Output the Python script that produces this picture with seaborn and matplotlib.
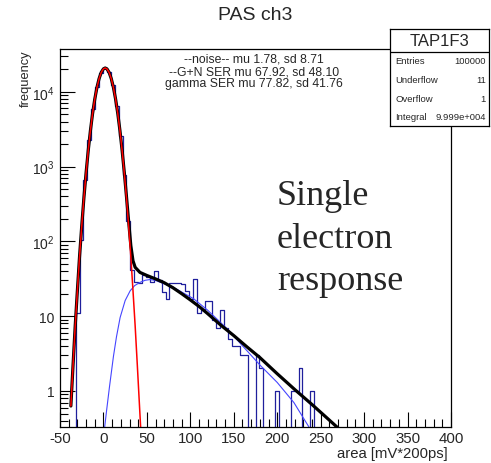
import numpy as np
import pandas as pd
import matplotlib
matplotlib.use("Agg")
import matplotlib.pyplot as plt
import seaborn as sns
from matplotlib.ticker import MultipleLocator, LogLocator, NullFormatter

sns.set_theme(style="white")
plt.rcParams['font.family'] = ['Liberation Sans', 'DejaVu Sans']
plt.rcParams['mathtext.fontset'] = 'custom'
plt.rcParams['mathtext.rm'] = 'Liberation Sans'
plt.rcParams['axes.unicode_minus'] = False

# histogram: 100 bins of 4.5 from -50 to 400
bin_edges = list(np.linspace(-50, 400, 101))
counts = [0, 0, 0, 0, 11, 105, 660, 2250, 5900, 11700,
          17900, 20800, 18400, 12500, 6400, 2550, 770, 185, 42, 29,
          28, 36, 33, 29, 40, 30, 21, 17, 28, 28,
          28, 27, 22, 17, 31, 11, 12, 16, 16, 9,
          7, 12, 7, 5, 4, 4, 3, 3, 0, 0,
          3, 2, 0, 0, 0, 1, 0, 0, 0, 1,
          1, 2, 0, 0, 1] + [0] * 35

# noise fit (red)
red_x = [-37.5, -35, -32.5, -30, -27.5, -25, -22.5, -20, -17.5, -15, -12.5, -10, -7.5, -5, -2.5,
         0, 2, 4, 6.5, 9, 11.5, 14, 16.5, 19, 21.5, 24, 26.5, 29, 31.5, 34, 36.5, 39, 41.5, 44]
red_y = [0.63, 2.2, 7.4, 22, 63, 160, 380, 820, 1640, 3020, 5120, 7950, 11400, 15000, 18200,
         20250, 20800, 20250, 18200, 15000, 11400, 7950, 5120, 3020, 1640, 820, 380, 160, 63, 22, 7.4, 2.2, 0.63, 0.18]

# G+N SER total fit (black)
black_x = [-37.5, -35, -32.5, -30, -27.5, -25, -22.5, -20, -17.5, -15, -12.5, -10, -7.5, -5, -2.5,
           0, 2, 4, 6.5, 9, 11.5, 14, 16.5, 19, 21.5, 24, 26.5, 29, 31.5, 34, 36.5, 42, 50, 60,
           70, 80, 90, 100, 110, 120, 135, 150, 165, 180, 200, 220, 240, 255, 270]
black_y = [0.63, 2.2, 7.4, 22, 63, 160, 380, 820, 1640, 3020, 5120, 7950, 11400, 15000, 18200,
           20250, 20800, 20250, 18200, 15000, 11400, 7950, 5120, 3020, 1640, 835, 398, 185, 88, 55, 45, 38.5, 35, 31.5,
           28, 24, 20, 16.5, 13.5, 10.8, 7.6, 5.5, 3.9, 2.8, 1.7, 1.05, 0.66, 0.46, 0.32]

# gamma SER fit (thin blue)
ser_x = [1, 3.8, 7, 11.5, 15, 19.2, 25, 30.8, 36, 42.3, 48, 53.8, 60, 65.4, 80, 103.8, 120,
         142.3, 157.7, 180.8, 200, 219.2, 236.5, 242]
ser_y = [0.3, 0.57, 1.15, 2.9, 5.3, 9.6, 16.2, 21.9, 25.7, 28.4, 30.2, 30.9, 30, 28.4, 24.5, 17.1, 12,
         6.8, 4.3, 2.18, 1.3, 0.7, 0.33, 0.26]

legend_lines = ["--noise-- mu 1.78, sd 8.71",
                "--G+N SER mu 67.92, sd 48.10",
                "gamma SER mu 77.82, sd 41.76"]
stat_names = ["Entries", "Underflow", "Overflow", "Integral"]
stat_values = ["100000", "11", "1", "9.999e+004"]

W, H = 491, 464
fig = plt.figure(figsize=(W / 100, H / 100), dpi=100)
ax = fig.add_axes([60 / W, 1 - 428 / H, 391 / W, 378.5 / H])

hist_df = pd.DataFrame({
    "area": 0.5 * (np.array(bin_edges[:-1]) + np.array(bin_edges[1:])),
    "count": counts,
})
sns.histplot(data=hist_df, x="area", weights="count", bins=bin_edges, element="step", fill=False,
             color="#1f1f9c", linewidth=0.9, ax=ax)
ax.set_yscale("log")
sns.lineplot(x=ser_x, y=ser_y, color="#4545ff", linewidth=0.8, ax=ax, sort=False)
sns.lineplot(x=black_x, y=black_y, color="black", linewidth=2.3, ax=ax, sort=False)
sns.lineplot(x=red_x, y=red_y, color="red", linewidth=1.1, ax=ax, sort=False)

ax.set_xlim(-50, 400)
ax.set_ylim(0.33, 37900)
ax.set_xlabel("")
ax.set_ylabel("")
ax.xaxis.set_major_locator(MultipleLocator(50))
ax.xaxis.set_minor_locator(MultipleLocator(10))
ax.set_yticks([1, 10, 100, 1000, 10000])
ax.set_yticklabels(["1", "10", "$10^{2}$", "$10^{3}$", "$10^{4}$"])
ax.yaxis.set_minor_locator(LogLocator(base=10, subs=np.arange(2, 10)))
ax.yaxis.set_minor_formatter(NullFormatter())
ax.tick_params(which="major", direction="in", length=11, width=0.8, labelsize=10.8,
               bottom=True, left=True, top=False, right=False, color="black", pad=3)
ax.tick_params(axis="y", which="major", labelsize=10, pad=4)
ax.tick_params(which="minor", direction="in", length=6, width=0.8,
               bottom=True, left=True, top=False, right=False, color="black")
for s in ax.spines.values():
    s.set_color("black")
    s.set_linewidth(0.9)

fig.text(255 / W, 1 - 16 / H, "PAS ch3", ha="center", va="center", fontsize=14)
fig.text(26 / W, 1 - 50 / H, "frequency", rotation=90, ha="center", va="top", fontsize=9.3)
fig.text(448 / W, 1 - 454 / H, "area [mV*200ps]", ha="right", va="center", fontsize=10.7)

for i, line in enumerate(legend_lines):
    fig.text(254 / W, 1 - (60 + 12.2 * i) / H, line, ha="center", va="center", fontsize=8.8)

for i, txt in enumerate(["Single", "electron", "response"]):
    fig.text(277 / W, 1 - (205 + 42.5 * i) / H, txt, ha="left", va="baseline",
             fontsize=26, family=["Liberation Serif", "DejaVu Serif"])

# stats box
bx = fig.add_axes([389.5 / W, 1 - 126.5 / H, 99 / W, 96.5 / H])
bx.set_xlim(0, 99)
bx.set_ylim(126.5, 30)
bx.set_xticks([])
bx.set_yticks([])
bx.set_facecolor("white")
for s in bx.spines.values():
    s.set_color("black")
    s.set_linewidth(0.9)
bx.axhline(53, color="black", linewidth=0.9)
bx.text(50.5, 42, "TAP1F3", ha="center", va="center", fontsize=12)
for i, (n, v) in enumerate(zip(stat_names, stat_values)):
    y = 62 + 18.6 * i
    bx.text(5.5, y, n, ha="left", va="center", fontsize=6.8)
    bx.text(96.5, y, v, ha="right", va="center", fontsize=6.8)

fig.savefig("out.png", dpi=100)
